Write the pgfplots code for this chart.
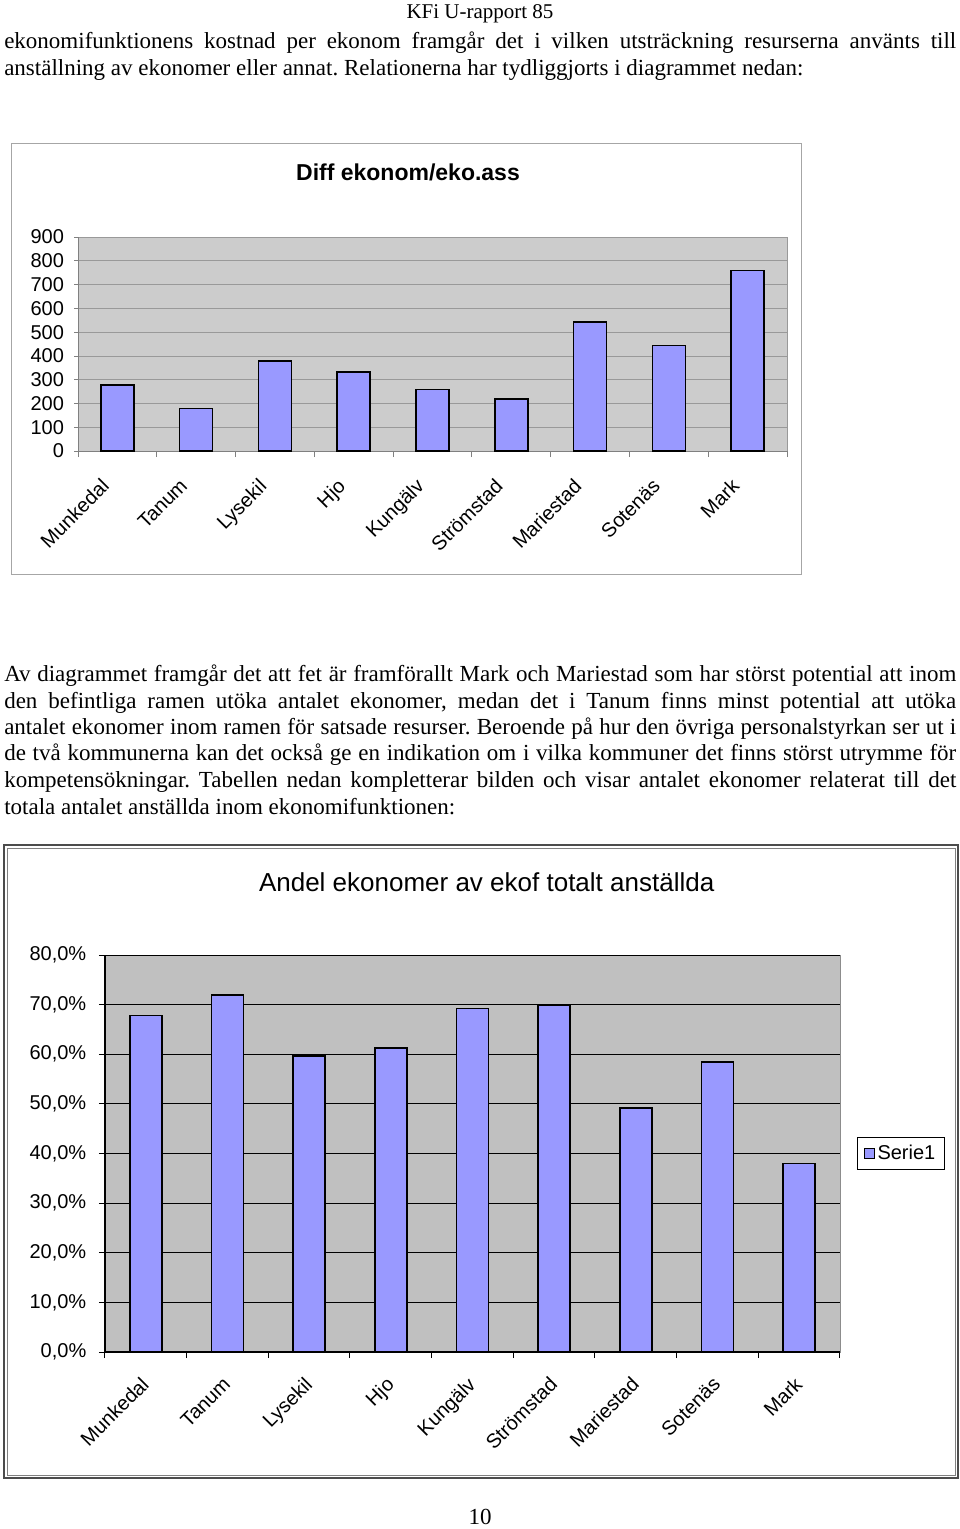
\documentclass[border=0pt]{standalone}
\usepackage{pgfplots}
\pgfplotsset{compat=1.18}
\usepackage{fontspec}
\setmainfont{Liberation Serif}
\newfontfamily\arial{Liberation Sans}
\definecolor{barfill}{HTML}{9999FF}
\definecolor{bgone}{HTML}{CCCCCC}
\definecolor{bgtwo}{HTML}{C0C0C0}
\frenchspacing
\newcommand{\bodyfont}{\fontsize{17.25pt}{20pt}\selectfont}
\newcommand{\headfont}{\fontsize{15.75pt}{19pt}\selectfont}
\newcommand{\jline}[3]{\node[anchor=base west,inner sep=0pt] at (#1pt,-#2pt) {\bodyfont\makebox[714pt][s]{#3}};}
\newcommand{\lline}[3]{\node[anchor=base west,inner sep=0pt] at (#1pt,-#2pt) {\bodyfont #3};}
\begin{document}
\begin{tikzpicture}
\path (0pt,0pt) rectangle (720pt,-1146.75pt);
% header
\node[anchor=base,inner sep=0pt] at (360pt,-13.5pt) {\headfont KFi U-rapport 85};
\jline{3}{36.5}{ekonomifunktionens kostnad per ekonom framgår det i vilken utsträckning resurserna använts till}
\lline{3}{56.5}{anställning av ekonomer eller annat. Relationerna har tydliggjorts i diagrammet nedan:}
% paragraph 2
\jline{3}{511}{Av diagrammet framgår det att fet är framförallt Mark och Mariestad som har störst potential att inom}
\jline{3}{531}{den befintliga ramen utöka antalet ekonomer, medan det i Tanum finns minst potential att utöka}
\jline{3}{551}{antalet ekonomer inom ramen för satsade resurser. Beroende på hur den övriga personalstyrkan ser ut i}
\jline{3}{570.5}{de två kommunerna kan det också ge en indikation om i vilka kommuner det finns störst utrymme för}
\jline{3}{590.5}{kompetensökningar. Tabellen nedan kompletterar bilden och visar antalet ekonomer relaterat till det}
\lline{3}{610.5}{totala antalet anställda inom ekonomifunktionen:}
\node[anchor=base,inner sep=0pt] at (360pt,-1143pt) {\bodyfont 10};
% chart 1 frame
\draw[draw=black!35,line width=0.75pt] (8.25pt,-107.25pt) rectangle (600.75pt,-430.5pt);
\node[inner sep=0pt] at (306pt,-129pt) {\arial\bfseries\fontsize{17.25pt}{20pt}\selectfont Diff ekonom/eko.ass};
\begin{axis}[
  at={(58.5pt,-338.25pt)}, anchor=south west,
  scale only axis, width=531.75pt, height=160.5pt,
  xmin=-0.5, xmax=8.5, ymin=0, ymax=900,
  ytick={0,100,...,900},
  xtick={0,...,8},
  xticklabels={Munkedal,Tanum,Lysekil,Hjo,Kungälv,Strömstad,Mariestad,Sotenäs,Mark},
  minor xtick={-0.5,0.5,...,8.5},
  major x tick style={draw=none},
  minor tick length=4.5pt, major tick length=3pt,
  tick align=outside,
  x tick style={draw=black!50, line width=0.6pt},
  y tick style={draw=black!50, line width=0.6pt},
  axis x line*=bottom, axis y line*=left,
  axis line style={draw=black!50, line width=0.75pt},
  axis background/.style={fill=bgone, draw=black!40, line width=0.6pt},
  ymajorgrids, grid style={draw=black!40, line width=0.6pt},
  ticklabel style={font=\arial\fontsize{15pt}{17pt}\selectfont},
  /pgf/number format/assume math mode=true,
  yticklabel style={xshift=-4pt},
  xticklabel style={rotate=45, anchor=north east, inner sep=0pt, xshift=-21pt, yshift=-2.5pt},
  ybar, bar width=24.75pt,
]
\addplot[fill=barfill, draw=black, line width=1.2pt] coordinates {
(0,277) (1,179) (2,378) (3,332) (4,258) (5,218) (6,542) (7,444) (8,760)};
\end{axis}
% chart 2 frame
\draw[draw=black!70,line width=1.2pt] (3pt,-633.75pt) rectangle (718.5pt,-1108.5pt);
\draw[draw=black!50,line width=0.6pt] (5.25pt,-636pt) rectangle (716.25pt,-1106.25pt);
\node[inner sep=0pt] at (365pt,-661.5pt) {\arial\fontsize{19.5pt}{22pt}\selectfont Andel ekonomer av ekof totalt anställda};
\begin{axis}[
  at={(78.75pt,-1014pt)}, anchor=south west,
  scale only axis, width=551.25pt, height=297.75pt,
  xmin=-0.5, xmax=8.5, ymin=0, ymax=80,
  ytick={0,10,...,80},
  yticklabels={{0,0\%},{10,0\%},{20,0\%},{30,0\%},{40,0\%},{50,0\%},{60,0\%},{70,0\%},{80,0\%}},
  xtick={0,...,8},
  xticklabels={Munkedal,Tanum,Lysekil,Hjo,Kungälv,Strömstad,Mariestad,Sotenäs,Mark},
  minor xtick={-0.5,0.5,...,8.5},
  major x tick style={draw=none},
  minor tick length=4.5pt, major tick length=4.5pt,
  tick align=outside,
  tick style={draw=black, line width=0.75pt},
  axis x line*=bottom, axis y line*=left,
  axis line style={draw=black, line width=0.9pt},
  axis background/.style={fill=bgtwo, draw=black!45, line width=0.6pt},
  ymajorgrids, grid style={draw=black, line width=0.75pt},
  ticklabel style={font=\arial\fontsize{15pt}{17pt}\selectfont},
  /pgf/number format/assume math mode=true,
  yticklabel style={xshift=-6pt},
  xticklabel style={rotate=45, anchor=north east, inner sep=0pt, xshift=-12.4pt, yshift=-6.1pt},
  ybar, bar width=24pt,
  area legend,
  legend style={at={(rel axis cs:1.023,0.5)}, anchor=west, draw=black, line width=0.75pt,
    font=\arial\fontsize{15pt}{17pt}\selectfont, inner xsep=5pt, inner ysep=3.5pt},
  legend image code/.code={\draw[fill=barfill, draw=black, line width=0.6pt] (0pt,-3.75pt) rectangle (7.5pt,3.75pt);},
]
\addplot[fill=barfill, draw=black, line width=1.2pt] coordinates {
(0,67.8) (1,72.0) (2,59.7) (3,61.3) (4,69.2) (5,69.8) (6,49.2) (7,58.4) (8,38.0)};
\addlegendentry{Serie1}
\end{axis}
\end{tikzpicture}
\end{document}
